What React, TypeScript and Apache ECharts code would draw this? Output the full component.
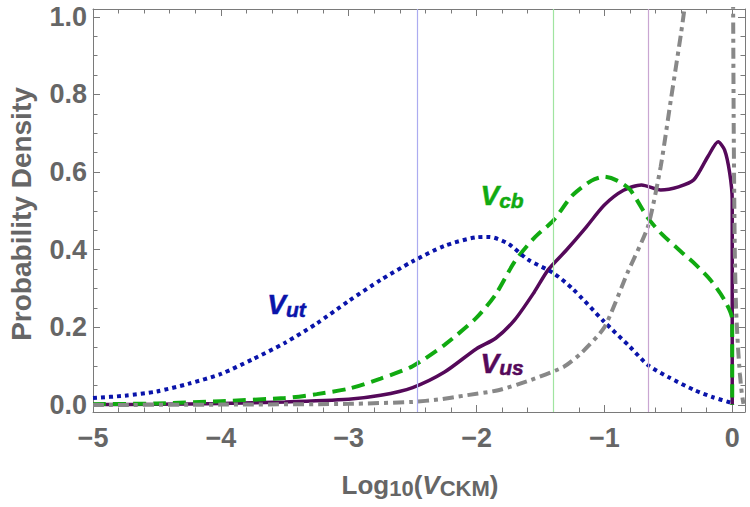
import React, { useEffect, useRef } from "react";
import * as echarts from "echarts";

// ---- tick values ----
const xMajorTicks = [-5, -4, -3, -2, -1, 0];
const xMinorTicks = [-4.8, -4.6, -4.4, -4.2, -3.8, -3.6, -3.4, -3.2, -2.8, -2.6, -2.4, -2.2, -1.8, -1.6, -1.4, -1.2, -0.8, -0.6, -0.4, -0.2];
const yMajorTicks = [0, 0.2, 0.4, 0.6, 0.8, 1.0];
const yMinorTicks = [0.05, 0.1, 0.15, 0.25, 0.3, 0.35, 0.45, 0.5, 0.55, 0.65, 0.7, 0.75, 0.85, 0.9, 0.95];

// ---- V_ut (blue dotted) ----
const vutX = [-5, -4.75, -4.5, -4.25, -4.0, -3.75, -3.5, -3.25, -3.0, -2.75, -2.5, -2.25, -2.0, -1.9, -1.75, -1.6, -1.4, -1.25, -1.0, -0.8, -0.66, -0.5, -0.3, -0.15, 0];
const vutY = [0.018, 0.024, 0.035, 0.055, 0.08, 0.118, 0.16, 0.21, 0.268, 0.322, 0.37, 0.41, 0.432, 0.433, 0.415, 0.375, 0.34, 0.3, 0.214, 0.15, 0.103, 0.072, 0.039, 0.02, 0.005];

// ---- V_cb (green dashed) ----
const vcbX = [-5, -4.5, -4.0, -3.5, -3.25, -3.0, -2.75, -2.5, -2.25, -2.0, -1.85, -1.7, -1.55, -1.4, -1.25, -1.1, -1.0, -0.9, -0.8, -0.66, -0.55, -0.4, -0.3, -0.17, -0.06, 0, 0];
const vcbY = [0.002, 0.004, 0.01, 0.018, 0.028, 0.042, 0.068, 0.1, 0.155, 0.225, 0.285, 0.37, 0.43, 0.475, 0.54, 0.578, 0.588, 0.578, 0.555, 0.482, 0.44, 0.395, 0.366, 0.322, 0.27, 0.22, 0];

// ---- V_us (purple solid) ----
const vusX = [-5, -4.5, -4.0, -3.5, -3.0, -2.75, -2.5, -2.25, -2.0, -1.85, -1.7, -1.55, -1.44, -1.3, -1.15, -1.0, -0.85, -0.71, -0.56, -0.42, -0.3, -0.19, -0.11, -0.06, -0.02, 0, 0];
const vusY = [0.001, 0.002, 0.004, 0.008, 0.015, 0.025, 0.045, 0.085, 0.145, 0.172, 0.22, 0.29, 0.348, 0.398, 0.455, 0.515, 0.553, 0.567, 0.554, 0.562, 0.58, 0.64, 0.678, 0.657, 0.598, 0.528, 0];

// ---- gray dash-dot ----
const grayX = [-5, -4, -3, -2.5, -2.3, -2.1, -1.83, -1.58, -1.32, -1.18, -1.0, -0.82, -0.66, -0.56, -0.48, -0.4, -0.34, -0.2, 0.0, 0.006, 0.012, 0.02, 0.03, 0.045, 0.06, 0.075, 0.088];
const grayY = [0, 0.001, 0.003, 0.008, 0.014, 0.024, 0.038, 0.064, 0.098, 0.134, 0.2, 0.34, 0.459, 0.613, 0.786, 0.958, 1.1, 1.4, 1.4, 1.1, 0.7, 0.4, 0.25, 0.15, 0.08, 0.03, 0.003];

// ---- reference vertical lines ----
const refLineX = [-2.46, -1.396, -0.66];

// ---- annotation positions (data coords) ----
const labelVut = [-3.486, 0.258];
const labelVcb = [-1.8, 0.539];
const labelVus = [-1.8, 0.108];

const FONT = "'Liberation Sans', Arial, sans-serif";
const FRAME = "#7a7a7a";
const TEXT = "#666666";
const BLUE = "#0a14aa";
const GREEN = "#11aa11";
const PURPLE = "#55095a";
const GRAY = "#888888";

const zip = (xs: number[], ys: number[]) => xs.map((x, i) => [x, ys[i]]);

export default function App() {
  const ref = useRef<HTMLDivElement>(null);
  useEffect(() => {
    if (!ref.current) return;
    const chart = echarts.init(ref.current, undefined, { renderer: "svg" });

    const xBase = { type: "value", min: -5, max: 0.1, splitLine: { show: false } };
    const yBase = { type: "value", min: -0.018, max: 1.02, splitLine: { show: false } };
    const fmtX = (v: number) => (v < 0 ? "\u2212" + Math.abs(v) : String(v));
    const line = (show: boolean) => ({ show, onZero: false, lineStyle: { color: FRAME, width: 1 } });
    const tick = (vals: number[], len: number) => ({ show: true, inside: true, length: len, customValues: vals, lineStyle: { color: FRAME, width: 1 } });

    const labelSeries = (pos: number[], color: string, sub: string) => ({
      type: "scatter",
      data: [pos],
      symbolSize: 1,
      itemStyle: { color: "rgba(0,0,0,0)", opacity: 1 },
      silent: true,
      z: 10,
      label: {
        show: true,
        position: "inside",
        opacity: 1,
        formatter: "{v|V}{s|" + sub + "}",
        rich: {
          v: { fontSize: 28, fontStyle: "italic", fontWeight: "bold", fontFamily: FONT, color, opacity: 1, lineHeight: 30, textBorderColor: color, textBorderWidth: 0.5 },
          s: { fontSize: 21, fontStyle: "italic", fontWeight: "bold", fontFamily: FONT, color, opacity: 1, lineHeight: 16, verticalAlign: "bottom", textBorderColor: color, textBorderWidth: 0.5 },
        },
      },
    });

    const option: any = {
      animation: false,
      backgroundColor: "#ffffff",
      grid: { left: 93, right: 5, top: 9, bottom: 95, containLabel: false },
      xAxis: [
        {
          ...xBase,
          position: "bottom",
          axisLine: line(true),
          axisTick: tick(xMajorTicks, 7),
          axisLabel: { show: true, customValues: xMajorTicks, formatter: fmtX, fontSize: 27, fontWeight: "bold", color: TEXT, fontFamily: FONT, margin: 12 },
        },
        { ...xBase, position: "bottom", axisLine: line(false), axisTick: tick(xMinorTicks, 4.5), axisLabel: { show: false } },
        { ...xBase, position: "top", axisLine: line(true), axisTick: tick(xMajorTicks, 7), axisLabel: { show: false } },
        { ...xBase, position: "top", axisLine: line(false), axisTick: tick(xMinorTicks, 4.5), axisLabel: { show: false } },
      ],
      yAxis: [
        {
          ...yBase,
          position: "left",
          axisLine: line(true),
          axisTick: tick(yMajorTicks, 7),
          axisLabel: { show: true, customValues: yMajorTicks, formatter: (v: number) => v.toFixed(1), fontSize: 27, fontWeight: "bold", color: TEXT, fontFamily: FONT, margin: 6 },
        },
        { ...yBase, position: "left", axisLine: line(false), axisTick: tick(yMinorTicks, 4.5), axisLabel: { show: false } },
        { ...yBase, position: "right", axisLine: line(true), axisTick: tick(yMajorTicks, 7), axisLabel: { show: false } },
        { ...yBase, position: "right", axisLine: line(false), axisTick: tick(yMinorTicks, 4.5), axisLabel: { show: false } },
      ],
      graphic: [
        {
          type: "text",
          x: 21,
          y: 214,
          rotation: Math.PI / 2,
          style: { text: "Probability Density", fontSize: 28, fontWeight: "bold", fontFamily: FONT, fill: TEXT, align: "center", verticalAlign: "middle" },
        },
        {
          type: "text",
          x: 420,
          y: 485,
          style: {
            text: "{a|Log}{s|10}{a|(}{i|V}{s|CKM}{a|)}",
            align: "center",
            verticalAlign: "middle",
            rich: {
              a: { fontSize: 26, fontWeight: "bold", fontFamily: FONT, fill: TEXT, lineHeight: 28 },
              i: { fontSize: 26, fontWeight: "bold", fontStyle: "italic", fontFamily: FONT, fill: TEXT, lineHeight: 28 },
              s: { fontSize: 22, fontWeight: "bold", fontFamily: FONT, fill: TEXT, lineHeight: 18, verticalAlign: "bottom" },
            },
          },
        },
      ],
      series: [
        {
          name: "Vus",
          type: "line",
          data: zip(vusX, vusY),
          showSymbol: false,
          smooth: 0.25,
          lineStyle: { color: PURPLE, width: 3.5 },
          markLine: {
            silent: true,
            symbol: ["none", "none"],
            label: { show: false },
            lineStyle: { color: "#c9a6d2", width: 1.2, type: "solid", opacity: 1 },
            data: [{ xAxis: refLineX[2] }],
          },
        },
        {
          name: "Vcb",
          type: "line",
          data: zip(vcbX, vcbY),
          showSymbol: false,
          smooth: 0.25,
          lineStyle: { color: GREEN, width: 4, type: [13, 7] },
          markLine: {
            silent: true,
            symbol: ["none", "none"],
            label: { show: false },
            lineStyle: { color: "#a0e4a0", width: 1.2, type: "solid", opacity: 1 },
            data: [{ xAxis: refLineX[1] }],
          },
        },
        {
          name: "Vut",
          type: "line",
          data: zip(vutX, vutY),
          showSymbol: false,
          smooth: 0.25,
          lineStyle: { color: BLUE, width: 4, type: [4, 4] },
          markLine: {
            silent: true,
            symbol: ["none", "none"],
            label: { show: false },
            lineStyle: { color: "#acacf0", width: 1.2, type: "solid", opacity: 1 },
            data: [{ xAxis: refLineX[0] }],
          },
        },
        {
          name: "other",
          type: "line",
          data: zip(grayX, grayY),
          showSymbol: false,
          smooth: 0.2,
          lineStyle: { color: GRAY, width: 4, type: [11, 5, 4, 5] },
        },
        labelSeries(labelVut, BLUE, "ut"),
        labelSeries(labelVcb, GREEN, "cb"),
        labelSeries(labelVus, PURPLE, "us"),
      ],
    };
    chart.setOption(option);
    return () => chart.dispose();
  }, []);
  return <div ref={ref} style={{ position: "fixed", left: 0, top: 0, width: 750, height: 507 }} />;
}
